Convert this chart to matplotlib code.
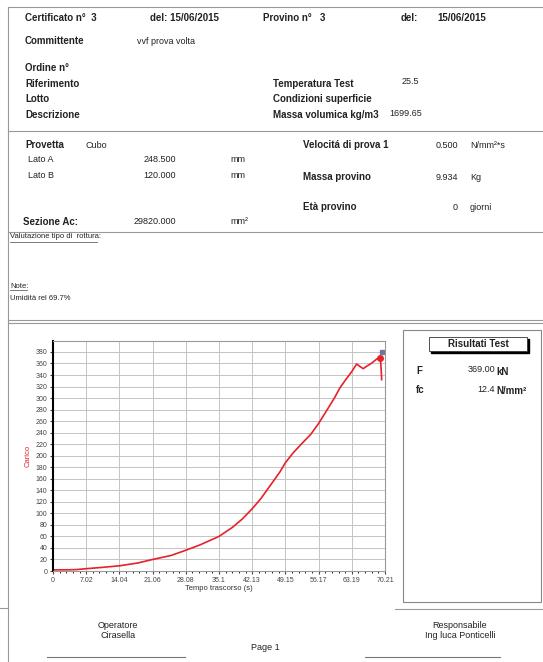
import matplotlib.pyplot as plt
import numpy as np
from matplotlib.patches import Rectangle

plt.rcParams['font.family'] = ['Liberation Sans', 'DejaVu Sans']

# load curve (time s, load kN)
tempo = [0, 3, 5, 7.02, 10, 14.04, 18, 21.06, 25, 28.08, 31, 35.1, 38, 40,
         42.13, 44, 46, 48, 49.15, 50.8, 52.5, 54.5, 56.17, 58, 59.5, 60.7,
         62, 63.19, 64.2, 64.9, 65.6, 66.3, 67.3, 68.5, 69.2, 69.4, 69.5]
carico = [2, 2, 2.5, 4, 6, 9, 14, 20, 27, 36, 45, 60, 76, 90,
          108, 126, 149, 172, 188, 205, 220, 237, 256, 280, 300, 318,
          333, 346, 359, 355, 351, 355, 360, 368, 371, 350, 332]
picco_t, picco_f = 69.2, 369
fine_t, fine_f = 69.5, 380

x_ticks = [0, 7.021, 14.042, 21.063, 28.084, 35.105, 42.126, 49.147, 56.168, 63.189, 70.21]
x_labels = ['0', '7.02', '14.04', '21.06', '28.08', '35.1', '42.13', '49.15', '56.17', '63.19', '70.21']
y_ticks = list(range(0, 400, 20))

W, H = 543, 662
fig = plt.figure(figsize=(W / 100, H / 100), dpi=100)
bg = fig.add_axes([0, 0, 1, 1])
bg.set_xlim(0, W)
bg.set_ylim(H, 0)
bg.axis('off')


def txt(x, y, s, bold=False, size=7, **kw):
    bg.text(x, y, s, fontsize=size, fontweight='bold' if bold else 'normal',
            va='center', color=kw.pop('color', '#222222'), **kw)


def hline(y, x0, x1, color='#999999', lw=0.8):
    bg.plot([x0, x1], [y, y], color=color, lw=lw)


# frame lines
hline(7, 8, W)
bg.plot([8, 8], [7, H], color='#999999', lw=0.8)
hline(131, 8, W)
hline(232, 8, W)
hline(320, 8, W)
hline(323, 8, W)
hline(608, 0, 8)
hline(609, 395, W)
hline(657, 47, 185, color='#777777')
hline(657, 365, 500, color='#777777')

# header
txt(25, 18, 'Certificato n°  3', bold=True)
txt(150, 18, 'del: 15/06/2015', bold=True)
txt(263, 18, 'Provino n°   3', bold=True)
txt(401, 18, 'del:', bold=True)
txt(437, 18, '15/06/2015', bold=True)
txt(25, 41, 'Committente', bold=True)
txt(137, 41, 'vvf prova volta', size=6.5)
txt(25, 68, 'Ordine n°', bold=True)
txt(25, 84, 'Riferimento', bold=True)
txt(25, 99, 'Lotto', bold=True)
txt(25, 115, 'Descrizione', bold=True)
txt(273, 84, 'Temperatura Test', bold=True)
txt(402, 82, '25.5', size=6.5)
txt(273, 99, 'Condizioni superficie', bold=True)
txt(273, 115, 'Massa volumica kg/m3', bold=True)
txt(389, 113, '1699.65', size=6.5)

# specimen section
txt(25, 145, 'Provetta', bold=True)
txt(85, 145, 'Cubo', size=6.5)
txt(28, 160, 'Lato A', size=6.5)
txt(176, 160, '248.500', size=6.5, ha='right')
txt(230, 160, 'mm', size=6.5)
txt(28, 175, 'Lato B', size=6.5)
txt(176, 175, '120.000', size=6.5, ha='right')
txt(230, 175, 'mm', size=6.5)
txt(23, 222, 'Sezione Ac:', bold=True)
txt(176, 222, '29820.000', size=6.5, ha='right')
txt(230, 222, 'mm²', size=6.5)
txt(303, 145, 'Velocitá di prova 1', bold=True)
txt(458, 145, '0.500', size=6.5, ha='right')
txt(470, 145, 'N/mm²*s', size=6.5)
txt(303, 177, 'Massa provino', bold=True)
txt(458, 177, '9.934', size=6.5, ha='right')
txt(470, 177, 'Kg', size=6.5)
txt(303, 207, 'Età provino', bold=True)
txt(458, 207, '0', size=6.5, ha='right')
txt(470, 207, 'giorni', size=6.5)

txt(10, 237, 'Valutazione tipo di  rottura:', size=5.5)
hline(242, 10, 97, color='#444444', lw=0.5)
txt(10, 286, 'Note:', size=5.5)
hline(290, 10, 27, color='#444444', lw=0.5)
txt(10, 299, 'Umidità rel 69.7%', size=5.5)

# results box
bg.add_patch(Rectangle((403, 330), 138, 272, fill=False, ec='#888888', lw=0.8))
bg.add_patch(Rectangle((431, 339), 98, 14, fc='black', ec='black'))
bg.add_patch(Rectangle((429, 337), 98, 14, fc='white', ec='#333333', lw=0.6))
txt(478, 344, 'Risultati Test', bold=True, ha='center')
txt(416, 371, 'F', bold=True)
txt(495, 370, '369.00', size=6.5, ha='right')
txt(496, 372, 'kN', bold=True)
txt(416, 390, 'fc', bold=True)
txt(495, 389, '12.4', size=6.5, ha='right')
txt(496, 391, 'N/mm²', bold=True)

# footer
txt(118, 626, 'Operatore', size=6.5, ha='center')
txt(118, 635, 'Cirasella', size=6.5, ha='center')
txt(460, 626, 'Responsabile', size=6.5, ha='center')
txt(460, 635, 'Ing luca Ponticelli', size=6.5, ha='center')
txt(265, 648, 'Page 1', size=6.5, ha='center')

# chart
ax = fig.add_axes([53 / W, 1 - 571 / H, (385 - 53) / W, (571 - 341) / H])
ax.plot(tempo, carico, color='#e8202a', lw=1.2)
ax.plot([picco_t], [picco_f], 'o', color='#e8202a', ms=4)
ax.plot([fine_t], [fine_f], 's', color='#6a7a9a', ms=2.5)
ax.set_xlim(0, 70.21)
ax.set_ylim(0, 399)
ax.set_xticks(x_ticks)
ax.set_xticklabels(x_labels)
ax.set_xticks(np.arange(0, 70.21, 7.021 / 5), minor=True)
ax.set_yticks(y_ticks)
ax.grid(True, color='#c4c4c4', lw=0.7)
ax.tick_params(labelsize=5, colors='#444444', length=2, pad=2)
ax.tick_params(which='minor', length=1.5)
for s in ['top', 'right', 'bottom']:
    ax.spines[s].set_color('#999999')
ax.spines['left'].set_linewidth(1.5)
ax.set_xlabel('Tempo trascorso (s)', fontsize=5.5, labelpad=1, color='#333333')
ax.set_ylabel('Carico', fontsize=5.5, color='#e8202a', labelpad=3)

fig.savefig('out.png', dpi=100)
